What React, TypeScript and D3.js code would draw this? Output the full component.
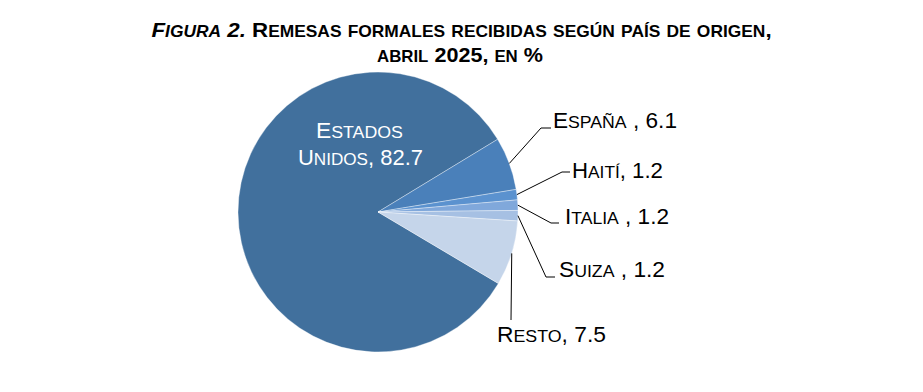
import { useEffect, useRef } from 'react';
import * as d3 from 'd3';

const W = 923;
const H = 392;

const countries = ['Estados Unidos', 'España', 'Haití', 'Italia', 'Suiza', 'Resto'];
const shares = [82.7, 6.1, 1.2, 1.2, 1.2, 7.5];
const labelTexts = ['', 'España , 6.1', 'Haití, 1.2', 'Italia , 1.2', 'Suiza , 1.2', 'Resto, 7.5'];
const sliceColors = ['#41709d', '#4a80ba', '#5b92cf', '#80a8db', '#a6c0e3', '#c5d5ea'];

const FONT = '"Liberation Sans", Arial, sans-serif';
const SC_RATIO = 0.78;

// label placement: elbow of the leader, end of leader, text left/baseline, text width
const labelLayout = [
  null,
  { elbow: [541, 128], end: [551, 128], text: [553, 128], w: 124 },
  { elbow: [562, 172], end: [570, 172], text: [572, 177.5], w: 91 },
  { elbow: [551, 223], end: [559, 223], text: [565, 223.5], w: 104 },
  { elbow: [546, 277], end: [555, 277], text: [559, 277], w: 106 },
  { elbow: [511, 320], end: [511, 320], text: [497, 341.5], w: 109 },
];

type Sel = d3.Selection<SVGTextElement, unknown, null, undefined>;

// emulate Word-style small caps: lowercase letters drawn as smaller capitals
function smallCaps(parent: Sel | d3.Selection<SVGTSpanElement, unknown, null, undefined>, str: string, size: number) {
  let run = '';
  let small: boolean | null = null;
  const flush = () => {
    if (!run) return;
    parent.append('tspan')
      .attr('font-size', small ? size * SC_RATIO : size)
      .text(small ? run.toUpperCase() : run);
    run = '';
  };
  for (const ch of str) {
    const isSmall = ch !== ch.toUpperCase();
    if (small !== null && isSmall !== small) flush();
    small = isSmall;
    run += ch;
  }
  flush();
}

// place a text line at left x / baseline y and stretch it to the given width
function fitLine(t: Sel, x: number, y: number, w: number) {
  const node = t.node()!;
  const bw = node.getComputedTextLength();
  const s = bw > 0 ? w / bw : 1;
  t.attr('x', 0).attr('y', 0).attr('transform', `translate(${x},${y}) scale(${s},1)`);
}

export default function App() {
  const svgRef = useRef<SVGSVGElement>(null);

  useEffect(() => {
    if (!svgRef.current) return;
    const svg = d3.select(svgRef.current);
    svg.selectAll('*').remove();

    const cx = 378;
    const cy = 212;
    const radius = 140;
    const start = (120.7 * Math.PI) / 180;

    const data = countries.map((c, i) => ({ name: c, value: shares[i], i }));

    const pie = d3.pie<{ name: string; value: number; i: number }>()
      .value(d => d.value)
      .sort(null)
      .startAngle(start)
      .endAngle(start + 2 * Math.PI);

    const arcs = pie(data);
    const arc = d3.arc<d3.PieArcDatum<{ name: string; value: number; i: number }>>()
      .innerRadius(0)
      .outerRadius(radius);

    svg.append('rect').attr('width', W).attr('height', H).attr('fill', '#fff');

    // title
    const t1 = svg.append('text')
      .attr('font-family', FONT)
      .attr('font-weight', 'bold')
      .attr('fill', '#000');
    const fig = t1.append('tspan').attr('font-style', 'italic');
    smallCaps(fig, 'Figura 2.', 20);
    smallCaps(t1, ' Remesas formales recibidas según país de origen,', 20);
    fitLine(t1, 151.5, 37, 620.5);

    const t2 = svg.append('text')
      .attr('font-family', FONT)
      .attr('font-weight', 'bold')
      .attr('fill', '#000');
    smallCaps(t2, 'abril 2025, en %', 20);
    fitLine(t2, 377, 62, 166);

    const g = svg.append('g').attr('transform', `translate(${cx},${cy})`);

    g.selectAll('path.slice')
      .data(arcs)
      .enter()
      .append('path')
      .attr('class', 'slice')
      .attr('d', arc)
      .attr('fill', d => sliceColors[d.data.i])
      .attr('stroke', 'rgba(255,255,255,0.45)')
      .attr('stroke-width', 0.8);

    // leader lines + labels
    arcs.forEach(a => {
      const lay = labelLayout[a.data.i];
      if (!lay) return;
      const mid = (a.startAngle + a.endAngle) / 2;
      const sx = cx + radius * Math.sin(mid);
      const sy = cy - radius * Math.cos(mid);
      svg.append('path')
        .attr('d', d3.line()([[sx, sy], lay.elbow as [number, number], lay.end as [number, number]]))
        .attr('fill', 'none')
        .attr('stroke', '#000')
        .attr('stroke-width', 1);
      const t = svg.append('text').attr('font-family', FONT).attr('fill', '#000');
      smallCaps(t, labelTexts[a.data.i], 21.5);
      fitLine(t, lay.text[0], lay.text[1], lay.w);
    });

    // inside label for the largest slice
    const u1 = svg.append('text').attr('font-family', FONT).attr('fill', '#fff');
    smallCaps(u1, 'Estados', 22);
    fitLine(u1, 316, 137.5, 87);
    const u2 = svg.append('text').attr('font-family', FONT).attr('fill', '#fff');
    smallCaps(u2, `Unidos, ${shares[0]}`, 22);
    fitLine(u2, 298, 165, 125);
  }, []);

  return (
    <svg
      ref={svgRef}
      width={W}
      height={H}
      style={{ position: 'absolute', left: 0, top: 0, display: 'block' }}
    />
  );
}
